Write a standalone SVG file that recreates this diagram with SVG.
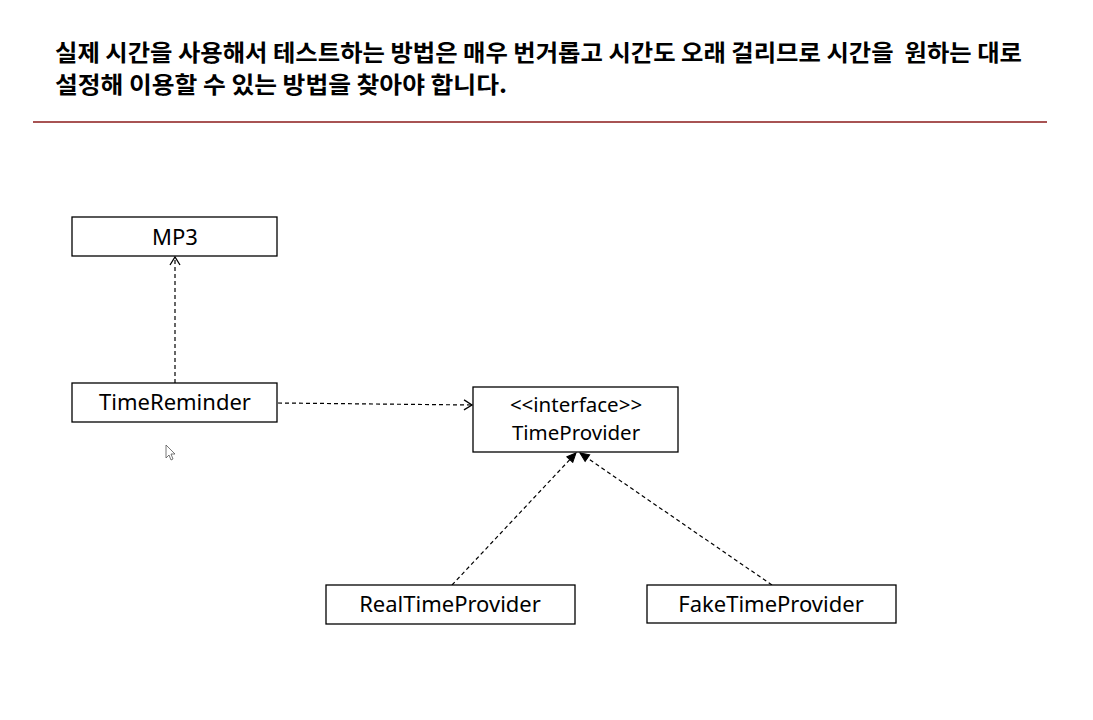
<svg xmlns="http://www.w3.org/2000/svg" width="1093" height="720" viewBox="0 0 1093 720">
<style>
.title{font-family:"Noto Sans CJK KR","Noto Sans",sans-serif;font-size:23px;font-weight:bold;fill:#000}
.box{fill:#fff;stroke:#000;stroke-width:1.3}
.lbl{font-family:"Noto Sans","DejaVu Sans",sans-serif;font-size:22px;fill:#000;text-anchor:middle}
.lbl2{font-size:20.5px}
.dep{stroke:#000;stroke-width:1.2;stroke-dasharray:4 3;fill:none}
</style>
<defs>
<marker id="open" markerWidth="12" markerHeight="12" refX="10" refY="6" orient="auto" markerUnits="userSpaceOnUse">
<path d="M2,1 L10,6 L2,11" fill="none" stroke="#000" stroke-width="1.3"/>
</marker>
<marker id="filled" markerWidth="12" markerHeight="12" refX="10" refY="6" orient="auto" markerUnits="userSpaceOnUse">
<path d="M1,2 L10,6 L1,10 Z" fill="#000" stroke="#000" stroke-width="1"/>
</marker>
</defs>
<rect width="1093" height="720" fill="#fff"/>
<g id="header">
<text class="title" x="55" y="61" textLength="967" lengthAdjust="spacingAndGlyphs" xml:space="preserve">실제 시간을 사용해서 테스트하는 방법은 매우 번거롭고 시간도 오래 걸리므로 시간을  원하는 대로</text>
<text class="title" x="55" y="93" textLength="452" lengthAdjust="spacingAndGlyphs">설정해 이용할 수 있는 방법을 찾아야 합니다.</text>
<line x1="33" y1="122" x2="1047" y2="122" stroke="#8b1a1a" stroke-width="1.5"/>
</g>
<g id="connectors">
<line class="dep" x1="175" y1="383" x2="175" y2="257" marker-end="url(#open)"/>
<line class="dep" x1="278" y1="403" x2="472" y2="405" marker-end="url(#open)"/>
<line class="dep" x1="452" y1="585" x2="576" y2="453" marker-end="url(#filled)"/>
<line class="dep" x1="772" y1="585" x2="580" y2="453" marker-end="url(#filled)"/>
</g>
<g id="MP3">
<rect class="box" x="72" y="217" width="205" height="39"/>
<text class="lbl" x="175" y="245">MP3</text>
</g>
<g id="TimeReminder">
<rect class="box" x="72" y="383" width="205" height="39"/>
<text class="lbl" x="175" y="410">TimeReminder</text>
</g>
<g id="TimeProvider">
<rect class="box" x="473" y="387" width="205" height="65"/>
<text class="lbl lbl2" x="576" y="412">&lt;&lt;interface&gt;&gt;</text>
<text class="lbl lbl2" x="576" y="440">TimeProvider</text>
</g>
<g id="RealTimeProvider">
<rect class="box" x="326" y="585" width="249" height="39"/>
<text class="lbl" x="450" y="612">RealTimeProvider</text>
</g>
<g id="FakeTimeProvider">
<rect class="box" x="647" y="585" width="249" height="38"/>
<text class="lbl" x="771" y="612">FakeTimeProvider</text>
</g>
<path d="M166,445 L166,458 L169,455 L171,460 L173,459 L171,454 L175,454 Z" fill="#fff" stroke="#555" stroke-width="0.8"/>
</svg>
